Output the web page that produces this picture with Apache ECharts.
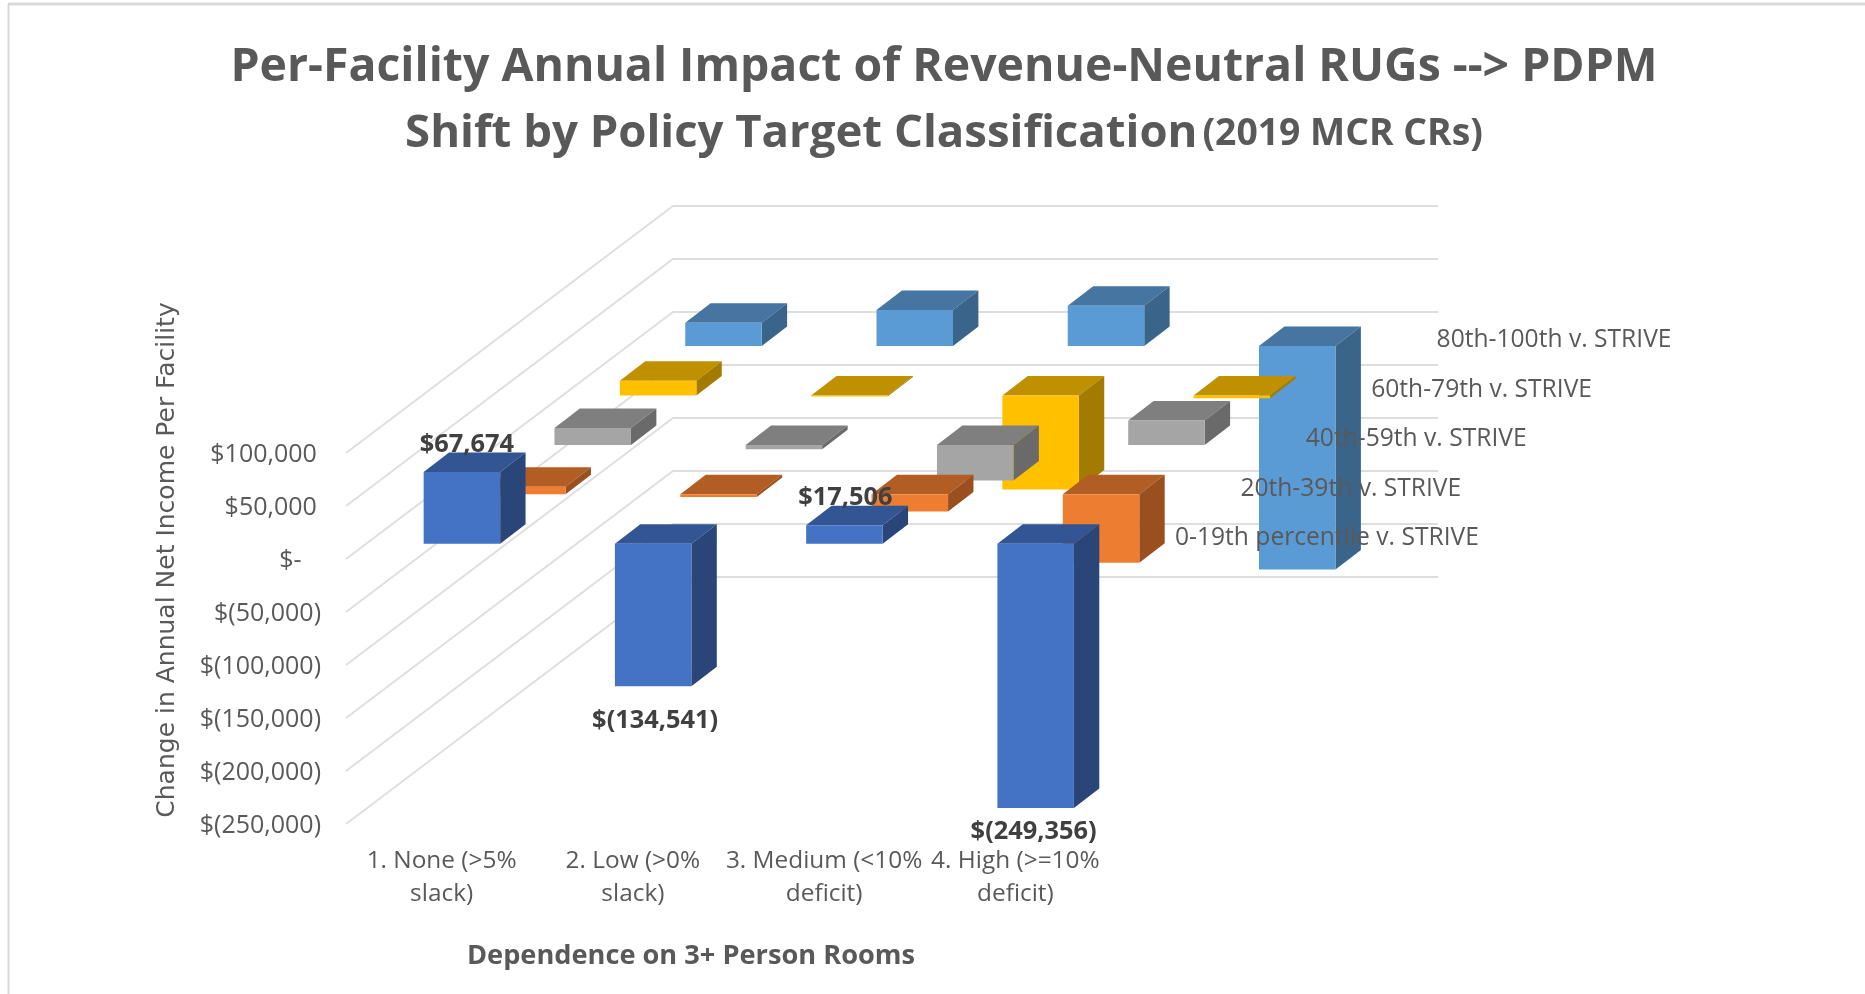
<!DOCTYPE html>
<html>
<head>
<meta charset="utf-8">
<style>html,body{margin:0;padding:0;background:#fff}#c{width:1865px;height:994px}</style>
<script src="https://cdn.jsdelivr.net/npm/echarts@6/dist/echarts.min.js"></script>
</head>
<body>
<div id="c"></div>
<script>
const categories = ['1. None (>5%\nslack)', '2. Low (>0%\nslack)', '3. Medium (<10%\ndeficit)', '4. High (>=10%\ndeficit)'];
const seriesNames = ['0-19th percentile v. STRIVE', '20th-39th v. STRIVE', '40th-59th v. STRIVE', '60th-79th v. STRIVE', '80th-100th v. STRIVE'];
const values0to19 = [67674, -134541, 17506, -249356];
const values20to39 = [7000, -2500, -16300, -64700];
const values40to59 = [16000, -4000, -33600, 23000];
const values60to79 = [13800, -1000, -88700, -2500];
const values80to100 = [22000, 34000, 38000, -210700];
const seriesValues = [values0to19, values20to39, values40to59, values60to79, values80to100];
const labelledValues = [67674, -134541, 17506, -249356];
const yTicks = [100000, 50000, 0, -50000, -100000, -150000, -200000, -250000];

const faceColors = [
  {front: '#4472C4', top: '#335593', side: '#2A4678'},
  {front: '#ED7D31', top: '#B25D24', side: '#9A4F1E'},
  {front: '#A5A5A5', top: '#7F7F7F', side: '#6A6A6A'},
  {front: '#FFC000', top: '#BF9000', side: '#A37B00'},
  {front: '#5B9BD5', top: '#4575A0', side: '#3A6489'}
];

// oblique projection of the depth axis, in pixels per series slot
const SLOT_DX = 65.4, SLOT_DY = 49.4, FRONT_GAP = 0.31;
const BAR_FRAC = 0.4, BAR_DX = 25.4, BAR_DY = 19.5;
const LABEL_FONT = '"Open Sans", sans-serif';
const TEXT = '#595959';

function moneyLabel(v) {
  let s;
  if (v === 0) s = '$-   ';
  else if (v < 0) s = '$(' + (-v).toLocaleString('en-US') + ')';
  else s = '$' + v.toLocaleString('en-US') + '\u2009';
  return '{a|' + s + '}';
}

function barRenderer(slot) {
  const colors = faceColors[slot];
  const shift = slot + FRONT_GAP;
  return function (params, api) {
    const cat = api.value(0), v = api.value(1);
    const base = api.coord([cat, 0]);
    const tip = api.coord([cat, v]);
    const band = api.size([1, 0])[0];
    const w = band * BAR_FRAC;
    const x0 = base[0] + shift * SLOT_DX - w / 2, x1 = x0 + w;
    const yT = Math.min(base[1], tip[1]) - shift * SLOT_DY;
    const yB = Math.max(base[1], tip[1]) - shift * SLOT_DY;
    return {
      type: 'group',
      children: [
        {type: 'polygon', shape: {points: [[x0, yT], [x1, yT], [x1 + BAR_DX, yT - BAR_DY], [x0 + BAR_DX, yT - BAR_DY]]}, style: {fill: colors.top}},
        {type: 'polygon', shape: {points: [[x1, yT], [x1 + BAR_DX, yT - BAR_DY], [x1 + BAR_DX, yB - BAR_DY], [x1, yB]]}, style: {fill: colors.side}},
        {type: 'rect', shape: {x: x0, y: yT, width: w, height: yB - yT}, style: {fill: colors.front}}
      ]
    };
  };
}

function wallRenderer(params, api) {
  const v = api.value(0);
  const first = api.coord([0, v]);
  const last = api.coord([categories.length - 1, v]);
  const band = api.size([1, 0])[0];
  const left = first[0] - band / 2, right = last[0] + band / 2;
  const n = seriesNames.length;
  const backX = left + n * SLOT_DX, backY = first[1] - n * SLOT_DY;
  return {
    type: 'polyline',
    shape: {points: [[left, first[1]], [backX, backY], [right + n * SLOT_DX, backY]]},
    style: {fill: 'none', stroke: '#DEDEDE', lineWidth: 1.8}
  };
}

function depthLabelRenderer(params, api) {
  const slot = api.value(0);
  const p = api.coord([categories.length - 1, 0]);
  const band = api.size([1, 0])[0];
  return {
    type: 'text',
    x: p[0] + band / 2 + 64 + slot * SLOT_DX,
    y: p[1] - 21 - slot * SLOT_DY,
    style: {text: seriesNames[slot], font: '24.6px ' + LABEL_FONT, fill: TEXT, textAlign: 'left', textVerticalAlign: 'middle'}
  };
}

function dataLabelRenderer(params, api) {
  const cat = api.value(0), v = api.value(1);
  const tip = api.coord([cat, v]);
  const shift = FRONT_GAP;
  const below = [0, 34, 0, 24];
  const nudge = [5, 2, 1, -2];
  const yBar = tip[1] - shift * SLOT_DY;
  return {
    type: 'text',
    x: tip[0] + shift * SLOT_DX + nudge[cat],
    y: v > 0 ? yBar - BAR_DY - 8 : yBar + below[cat],
    style: {text: v > 0 ? '$' + v.toLocaleString('en-US') : '$(' + (-v).toLocaleString('en-US') + ')', font: 'bold 25.4px ' + LABEL_FONT, fill: '#404040', textAlign: 'center', textVerticalAlign: 'middle'}
  };
}

const barSeries = [4, 3, 2, 1, 0].map(function (slot) {
  return {
    type: 'custom', name: seriesNames[slot], coordinateSystem: 'cartesian2d', clip: false,
    renderItem: barRenderer(slot),
    encode: {x: 0, y: 1},
    data: seriesValues[slot].map(function (v, i) { return [i, v]; }),
    z: 3
  };
});

const chart = echarts.init(document.getElementById('c'), null, {renderer: 'canvas'});
chart.setOption({
  animation: false,
  backgroundColor: '#fff',
  title: [
    {
      text: '{a|Per-Facility Annual Impact of Revenue-Neutral RUGs --> PDPM}\n{m|Shift by Policy Target Classification} {s|(2019 MCR CRs)}',
      left: 939, top: 30, textAlign: 'center',
      textStyle: {rich: {
        a: {fontFamily: 'Open Sans', fontWeight: 'bold', fontSize: 46.4, color: TEXT, lineHeight: 66},
        m: {fontFamily: 'Open Sans', fontWeight: 'bold', fontSize: 45.5, color: TEXT, lineHeight: 66},
        s: {fontFamily: 'Open Sans', fontWeight: 'bold', fontSize: 37.3, color: TEXT, lineHeight: 66}
      }}
    },
    {
      text: 'Dependence on 3+ Person Rooms',
      left: 686, top: 938, textAlign: 'center',
      textStyle: {fontFamily: 'Open Sans', fontWeight: 'bold', fontSize: 27.2, color: TEXT}
    }
  ],
  grid: {left: 346, top: 453, width: 765, height: 371, containLabel: false},
  xAxis: {
    type: 'category', data: categories,
    axisLine: {show: false}, axisTick: {show: false}, splitLine: {show: false},
    axisLabel: {interval: 0, margin: 20, hideOverlap: false, fontFamily: 'Open Sans', fontSize: 24.4, lineHeight: 33.5, color: TEXT}
  },
  yAxis: {
    type: 'value', min: -250000, max: 100000, interval: 50000,
    axisLine: {show: false}, axisTick: {show: false}, splitLine: {show: false},
    axisLabel: {
      margin: 25, formatter: moneyLabel,
      rich: {a: {fontFamily: 'Open Sans', fontSize: 25, color: TEXT, padding: [4, 0, 0, 0]}}
    }
  },
  graphic: [
    {type: 'line', shape: {x1: 8, y1: 4, x2: 1865, y2: 4}, style: {stroke: '#D9D9D9', lineWidth: 3}, silent: true},
    {type: 'line', shape: {x1: 8.5, y1: 4, x2: 8.5, y2: 994}, style: {stroke: '#D9D9D9', lineWidth: 2}, silent: true},
    {
      type: 'text', rotation: Math.PI / 2, x: 167, y: 560, silent: true,
      style: {text: 'Change in Annual Net Income Per Facility', font: '25px "DejaVu Sans", sans-serif', fill: TEXT, textAlign: 'center', textVerticalAlign: 'middle'}
    }
  ],
  series: [
    {
      type: 'custom', name: 'walls', coordinateSystem: 'cartesian2d', clip: false, silent: true,
      renderItem: wallRenderer, encode: {y: 0}, data: yTicks.map(function (v) { return [v]; }), z: 1
    }
  ].concat(barSeries, [
    {
      type: 'custom', name: 'data labels', coordinateSystem: 'cartesian2d', clip: false, silent: true,
      renderItem: dataLabelRenderer, encode: {x: 0, y: 1},
      data: labelledValues.map(function (v, i) { return [i, v]; }), z: 5
    },
    {
      type: 'custom', name: 'depth axis', coordinateSystem: 'cartesian2d', clip: false, silent: true,
      renderItem: depthLabelRenderer, encode: {x: 0},
      data: seriesNames.map(function (n, i) { return [i]; }), z: 5
    }
  ])
});
</script>
</body>
</html>
